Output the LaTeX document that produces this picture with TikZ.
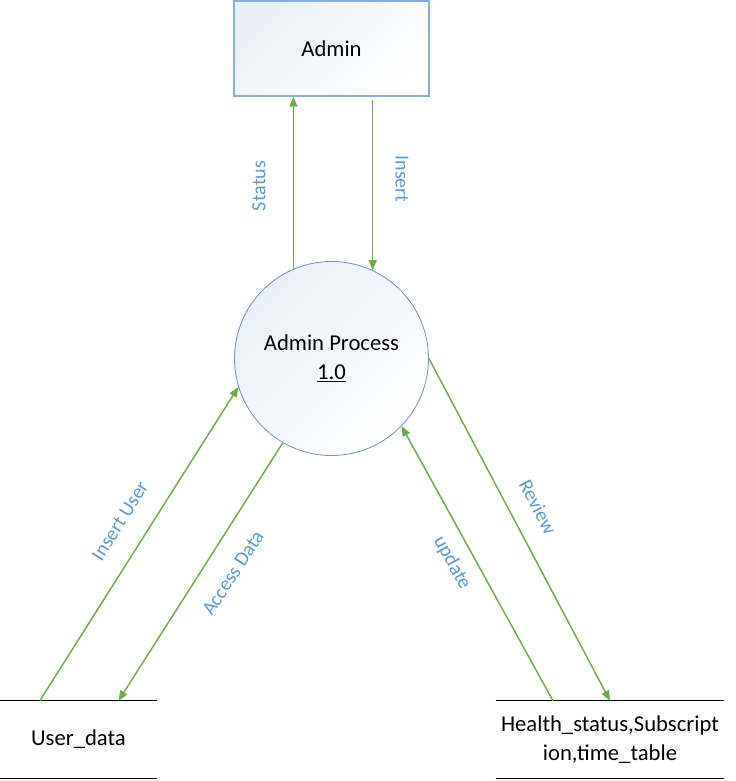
\documentclass[tikz,border=0pt]{standalone}
\usepackage{fontspec}
\setmainfont{Carlito}
\usetikzlibrary{arrows.meta}

\definecolor{flowgreen}{HTML}{70AD47}
\definecolor{lblblue}{HTML}{5B9BD5}
\definecolor{edgeblue}{HTML}{6A93C6}
\definecolor{boxblue}{HTML}{8AAEDC}

\begin{document}
\begin{tikzpicture}[x=0.75pt,y=-0.75pt,line cap=butt,line join=miter,>={Triangle[length=7.5pt,width=6pt]}]
	\tikzset{flow/.style={->,flowgreen,line width=1.1pt},
		lbl/.style={lblblue,font=\fontsize{15}{18}\selectfont},
		ent/.style={draw=boxblue,line width=1pt,top color=edgeblue!14,bottom color=white,shading angle=45,
			minimum width=146.25pt,minimum height=71.25pt,font=\fontsize{17}{20}\selectfont},
		proc/.style={circle,draw=edgeblue,line width=0.6pt,top color=edgeblue!14,bottom color=white,shading angle=45,
			minimum size=145.5pt,inner sep=0pt,align=center,font=\fontsize{17}{21.75}\selectfont},
		store/.style={inner sep=0pt,minimum height=57.75pt,align=center,font=\fontsize{17}{21.75}\selectfont}}
	\useasboundingbox (0,0) rectangle (735,781);
	%--------- Entity, process, data stores
	\node[ent] (admin) at (331.5,48.5) {Admin};
	\node[proc] (adm) at (331.5,358.5) {Admin Process\\\underline{1.0}};
	\node[store,minimum width=118pt] (users) at (78.5,739.5) {User\_data};
	\node[store,minimum width=171pt] (health) at (610,739.5) {Health\_status,Subscript\\ion,time\_table};
	\draw[line width=1pt] (users.north west) -- (users.north east) (users.south west) -- (users.south east);
	\draw[line width=1pt] (health.north west) -- (health.north east) (health.south west) -- (health.south east);
	%--------- Data flows
	\draw[flow] (adm.113) -- (adm.113 |- admin.south);
	\draw[flow] ([yshift=-2.5pt]admin.south -| adm.65) -- (adm.65);
	\draw[flow] ([xshift=-29pt]users.north) -- (adm.197);
	\draw[flow] (adm.240) -- ([xshift=30pt]users.north);
	\draw[flow] ([xshift=-42.75pt]health.north) -- (adm.316);
	\draw[flow] (adm.0) -- (health.north);
	%--------- Labels
	\node[lbl,rotate=90] (lstatus) at (259,186) {Status};
	\node[lbl,rotate=-90] (linsert) at (402,179) {Insert};
	\node[lbl,rotate=58] (linsuser) at (120,521) {Insert User};
	\node[lbl,rotate=57] (laccess) at (233,573) {Access Data};
	\node[lbl,rotate=-61] (lupdate) at (452,563) {update};
	\node[lbl,rotate=-62] (lreview) at (538,507) {Review};
\end{tikzpicture}
\end{document}
